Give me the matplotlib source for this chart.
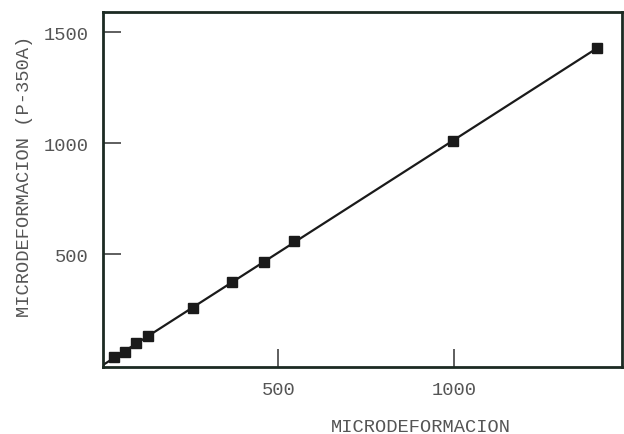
import numpy as np
import matplotlib.pyplot as plt

# readings: reference strain vs. P-350A indicator
micro_ref = [31, 63, 95, 129, 256, 367, 458, 546, 998, 1409]
micro_p350 = [35, 60, 99, 132, 255, 373, 463, 557, 1010, 1428]

x_ticks = [500, 1000]
y_ticks = [500, 1000, 1500]

plt.rcParams['font.family'] = ['Liberation Mono', 'DejaVu Sans Mono']

fig = plt.figure(figsize=(6.24, 4.35), dpi=100)
ax = fig.add_axes([0.165, 0.154, 0.832, 0.816])

x = np.array(micro_ref)
y = np.array(micro_p350)

# straight line fitted through the origin
slope = np.sum(x * y) / np.sum(x * x)
fit_x = np.array([0, x.max()])
ax.plot(fit_x, slope * fit_x, color='#1a1a1a', lw=1.6, zorder=2)
ax.plot(x, y, 's', color='#1a1a1a', ms=7, zorder=3)

ax.set_xlim(0, 1480)
ax.set_ylim(-9, 1590)
ax.set_xticks(x_ticks)
ax.set_yticks(y_ticks)

ax.tick_params(direction='in', length=13, width=1.1, color='#333333',
               labelsize=13.5, labelcolor='#555555')
ax.tick_params(axis='x', pad=10)
ax.tick_params(axis='y', pad=10)

for side in ['left', 'bottom', 'top', 'right']:
    ax.spines[side].set_linewidth(2)
    ax.spines[side].set_color('#1c2a22')

ax.set_xlabel('MICRODEFORMACION', fontsize=13.5, color='#555555')
ax.xaxis.set_label_coords(0.613, -0.169)
ax.xaxis.label.set_va('center')

ax.set_ylabel('MICRODEFORMACION (P-350A)', fontsize=13.5, color='#555555')
ax.yaxis.set_label_coords(-0.152, 0.541)
ax.yaxis.label.set_va('center')

plt.savefig('out.png', dpi=100)
